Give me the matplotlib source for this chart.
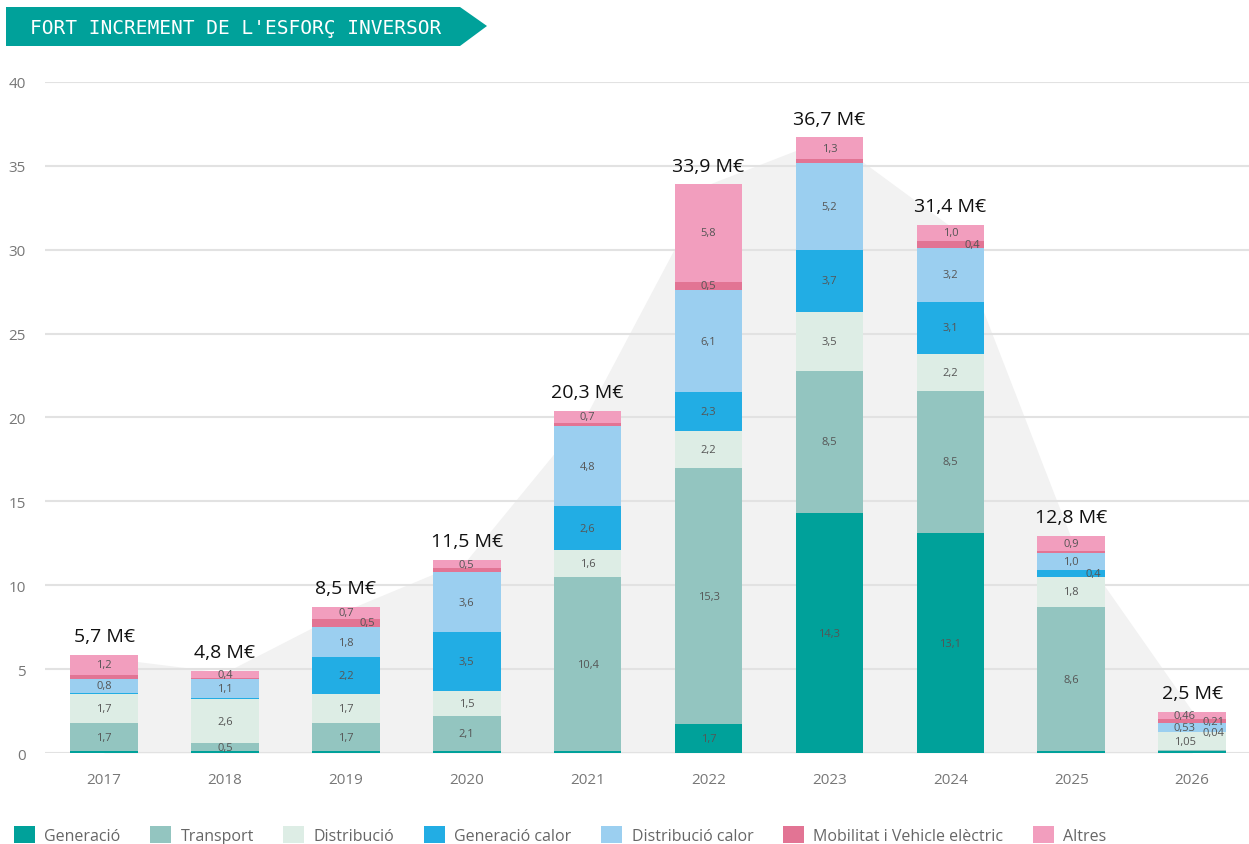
"""Stacked investment bars per year, with the totals silhouette behind them."""
import matplotlib
matplotlib.use("Agg")
import matplotlib.pyplot as plt
import numpy as np
from matplotlib.patches import Patch, Polygon

YEARS = ["2017", "2018", "2019", "2020", "2021", "2022", "2023", "2024", "2025", "2026"]
GENERACIO = [0.1, 0.1, 0.1, 0.1, 0.1, 1.7, 14.3, 13.1, 0.1, 0.12]
TRANSPORT = [1.7, 0.5, 1.7, 2.1, 10.4, 15.3, 8.5, 8.5, 8.6, 0.06]
DISTRIBUCIO = [1.7, 2.6, 1.7, 1.5, 1.6, 2.2, 3.5, 2.2, 1.8, 1.05]
GEN_CALOR = [0.1, 0.1, 2.2, 3.5, 2.6, 2.3, 3.7, 3.1, 0.4, 0.04]
DIST_CALOR = [0.8, 1.1, 1.8, 3.6, 4.8, 6.1, 5.2, 3.2, 1.0, 0.53]
MOBILITAT = [0.25, 0.1, 0.5, 0.2, 0.2, 0.5, 0.2, 0.4, 0.15, 0.21]
ALTRES = [1.2, 0.4, 0.7, 0.5, 0.7, 5.8, 1.3, 1.0, 0.9, 0.46]
TOTALS = [5.7, 4.8, 8.5, 11.5, 20.3, 33.9, 36.7, 31.4, 12.8, 2.5]

SERIES = [
    ("Generació", GENERACIO, "#00a19a"),
    ("Transport", TRANSPORT, "#93c5c0"),
    ("Distribució", DISTRIBUCIO, "#ddede5"),
    ("Generació calor", GEN_CALOR, "#22ade4"),
    ("Distribució calor", DIST_CALOR, "#9bcff0"),
    ("Mobilitat i Vehicle elèctric", MOBILITAT, "#e27494"),
    ("Altres", ALTRES, "#f29ebe"),
]
# small segments whose label sits to the right of the centre
SIDE_LABELS = {("2019", 5), ("2024", 5), ("2025", 3), ("2026", 5), ("2026", 3)}

plt.rcParams["font.family"] = ["Open Sans", "DejaVu Sans"]

W, H = 1249, 845
fig = plt.figure(figsize=(W / 100, H / 100), dpi=100)
ax = fig.add_axes([45 / W, 1 - 754 / H, 1 - 45 / W, (754 - 83) / H])

x = np.arange(len(YEARS))
width = 0.56

# grey silhouette of the totals
ax.fill_between(x, TOTALS, color="#f2f2f2", zorder=0.2, linewidth=0)

bottom = np.zeros(len(YEARS))
for idx, (name, values, color) in enumerate(SERIES):
    vals = np.array(values)
    ax.bar(x, vals, width, bottom=bottom, color=color, label=name, zorder=2)
    for i, (v, b) in enumerate(zip(vals, bottom)):
        year = YEARS[i]
        last = year == "2026"
        if v < 0.35 and not (last and idx >= 2):
            continue
        text = f"{v:.2f}" if last else f"{v:.1f}"
        xpos = x[i]
        if (year, idx) in SIDE_LABELS:
            xpos += 0.18
        elif last:
            xpos -= 0.06
        ax.text(xpos, b + v / 2, text.replace(".", ","), ha="center", va="center",
                fontsize=8, color="#555555", zorder=3)
    bottom += vals

for i, total in enumerate(TOTALS):
    ax.annotate(f"{total:.1f} M€".replace(".", ","), (x[i], bottom[i]),
                xytext=(0, 7), textcoords="offset points", ha="center", va="bottom",
                fontsize=14, color="#111111", annotation_clip=False)

ax.set_xlim(-0.488, 9.47)
ax.set_ylim(0, 40)
ax.set_yticks(range(0, 41, 5))
ax.set_xticks(x, YEARS)
ax.yaxis.grid(True, color="#e2e2e2", linewidth=1.5)
ax.set_axisbelow(True)
for side in ax.spines.values():
    side.set_visible(False)
ax.tick_params(length=0, colors="#777777", labelsize=11)
ax.tick_params(axis="y", pad=14)
ax.tick_params(axis="x", pad=14)

# title banner
banner = [(6, 8), (460, 8), (487, 27), (460, 47), (6, 47)]
fig.patches.append(Polygon([(px / W, 1 - py / H) for px, py in banner], closed=True,
                           transform=fig.transFigure, facecolor="#00a19a",
                           edgecolor="none"))
fig.text(30 / W, 1 - 28 / H, "FORT INCREMENT DE L'ESFORÇ INVERSOR", color="white",
         fontsize=14, family="DejaVu Sans Mono", va="center", ha="left")

handles = [Patch(facecolor=c, edgecolor="none") for _, _, c in SERIES]
fig.legend(handles, [n for n, _, _ in SERIES], loc="center left",
           bbox_to_anchor=(14 / W, 1 - 836 / H), ncol=7, frameon=False,
           fontsize=11.5, labelcolor="#666666", handlelength=1.3, handleheight=1.3,
           handletextpad=0.6, columnspacing=1.85, borderaxespad=0, borderpad=0)

fig.savefig("out.png", dpi=100)
